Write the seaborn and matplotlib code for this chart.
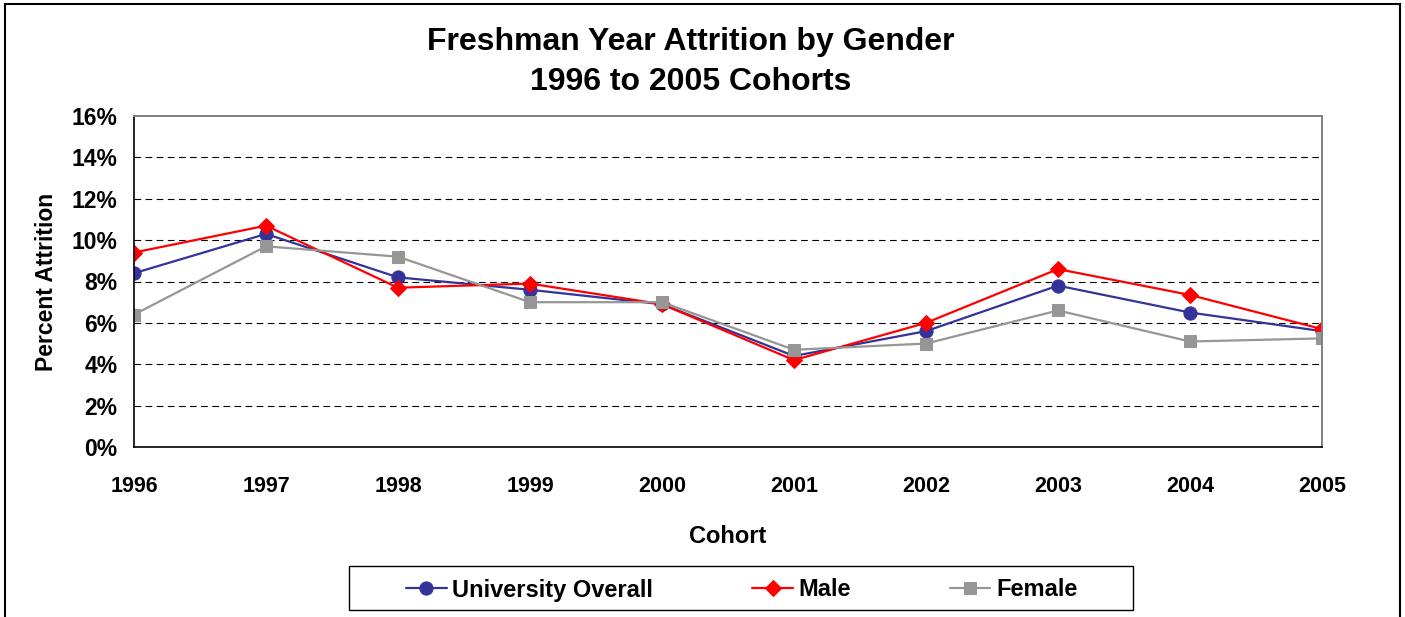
import matplotlib
matplotlib.use("Agg")
import matplotlib.pyplot as plt
import seaborn as sns
import pandas as pd
from matplotlib.patches import Rectangle
from matplotlib.ticker import FuncFormatter

cohorts = [1996, 1997, 1998, 1999, 2000, 2001, 2002, 2003, 2004, 2005]
overall = [8.4, 10.3, 8.2, 7.6, 6.9, 4.4, 5.6, 7.8, 6.5, 5.6]
male = [9.4, 10.7, 7.7, 7.9, 6.9, 4.2, 6.0, 8.6, 7.35, 5.7]
female = [6.4, 9.7, 9.2, 7.0, 7.0, 4.7, 5.0, 6.6, 5.1, 5.25]
y_ticks = [0, 2, 4, 6, 8, 10, 12, 14, 16]

sns.set_theme(style="white")
plt.rcParams['font.family'] = ['Liberation Sans', 'DejaVu Sans']
plt.rcParams['font.weight'] = 'bold'
for k in ['text.color', 'axes.labelcolor', 'xtick.color', 'ytick.color']:
    plt.rcParams[k] = 'black'

W, H = 1405, 617
fig = plt.figure(figsize=(W / 100, H / 100), dpi=100)
fig.patch.set_facecolor('white')
left, right, top, bottom = 134, 1322, 116, 447
ax = fig.add_axes([left / W, 1 - bottom / H, (right - left) / W, (bottom - top) / H])

df = pd.DataFrame({"Cohort": cohorts, "overall": overall, "male": male, "female": female})

sns.lineplot(data=df, x="Cohort", y="overall", ax=ax, color="#333399", marker="o",
             markersize=9.5, markeredgecolor="#333399", linewidth=1.6, label="University Overall")
sns.lineplot(data=df, x="Cohort", y="male", ax=ax, color="#FF0000", marker="D",
             markersize=8, markeredgecolor="#FF0000", linewidth=1.6, label="Male")
sns.lineplot(data=df, x="Cohort", y="female", ax=ax, color="#969696", marker="s",
             markersize=8, markeredgecolor="#969696", linewidth=1.6, label="Female")

ax.set_xlim(cohorts[0], cohorts[-1])
ax.set_ylim(0, 16)
ax.set_yticks(y_ticks)
ax.yaxis.set_major_formatter(FuncFormatter(lambda v, p: f"{v:.0f}%"))
ax.set_xticks(cohorts)
ax.set_xticklabels([str(c) for c in cohorts])
for yv in y_ticks[1:-1]:
    ax.axhline(yv, color="black", linestyle=(0, (6, 4)), linewidth=0.8, zorder=0)

ax.tick_params(axis='both', which='major', length=7, width=1,
               direction='out', color='black', pad=6)
ax.tick_params(axis='x', labelsize=15.5, pad=14)
ax.tick_params(axis='y', labelsize=16.5, pad=5)
for lab in ax.get_xticklabels() + ax.get_yticklabels():
    lab.set_fontweight('bold')
for s in ['left', 'bottom']:
    ax.spines[s].set_color('black')
    ax.spines[s].set_linewidth(1.2)
for s in ['top', 'right']:
    ax.spines[s].set_color('#808080')
    ax.spines[s].set_linewidth(1.4)

ax.set_xlabel("Cohort", fontsize=17, fontweight='bold', labelpad=20)
ax.set_ylabel("Percent Attrition", fontsize=16.5, fontweight='bold', labelpad=10)
ax.legend_.remove()

fig.text((W / 2 - 12) / W, 1 - 62 / H, "Freshman Year Attrition by Gender\n1996 to 2005 Cohorts",
         ha='center', va='center', fontsize=23, fontweight='bold', linespacing=1.4)

handles, labels = ax.get_legend_handles_labels()
leg = fig.legend(handles, labels, loc='center', ncol=3,
                 bbox_to_anchor=(742 / W, 1 - 590 / H),
                 fontsize=17, frameon=False,
                 handlelength=1.7, handletextpad=0.25, borderaxespad=0, columnspacing=4.2)
for t in leg.get_texts():
    t.set_fontweight('bold')

fig.patches.append(Rectangle((349 / W, 1 - 610 / H), (1133 - 349) / W, 44 / H,
                             transform=fig.transFigure, fill=False,
                             edgecolor='black', linewidth=1.0))
fig.patches.append(Rectangle((5 / W, -0.05), (1400 - 5) / W, 1.05 - 4 / H,
                             transform=fig.transFigure, fill=False,
                             edgecolor='black', linewidth=1.5))

fig.savefig("out.png", dpi=100)
